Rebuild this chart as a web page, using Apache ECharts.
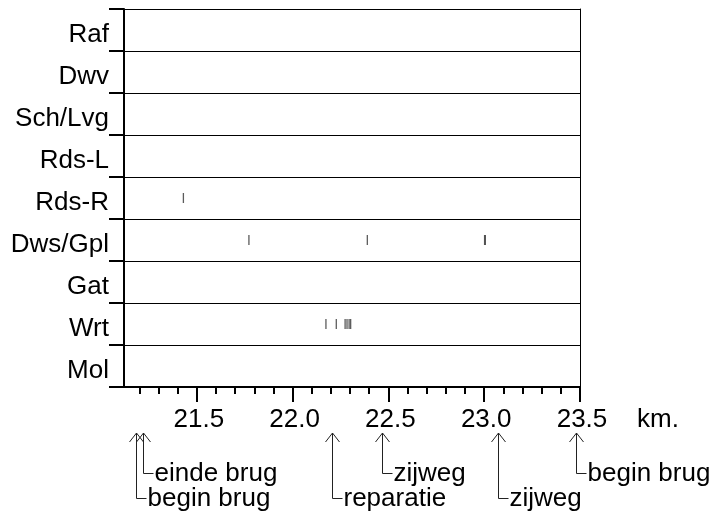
<!DOCTYPE html>
<html>
<head>
<meta charset="utf-8">
<script src="https://cdn.jsdelivr.net/npm/echarts@6/dist/echarts.min.js"></script>
<style>html,body{margin:0;padding:0;background:#fff}#c{width:709px;height:520px}</style>
</head>
<body>
<div id="c"></div>
<script>
const categories = ['Raf', 'Dwv', 'Sch/Lvg', 'Rds-L', 'Rds-R', 'Dws/Gpl', 'Gat', 'Wrt', 'Mol'];
const rdsR = [21.430];
const dwsGpl = [21.772, 22.390, 23.002, 23.006];
const wrt = [22.174, 22.228, 22.274, 22.284, 22.295, 22.303];
const minorTicks = [21.2, 21.3, 21.4, 21.6, 21.7, 21.8, 21.9, 22.1, 22.2, 22.3, 22.4, 22.6, 22.7, 22.8, 22.9, 23.1, 23.2, 23.3, 23.4];
const majorTicks = [21.5, 22.0, 22.5, 23.0, 23.5];
const tickLabels = ['21.5', '22.0', '22.5', '23.0', '23.5'];
const annotKm = [21.183, 21.218, 22.204, 22.465, 23.074, 23.479];
const annotLabels = ['begin brug', 'einde brug', 'reparatie', 'zijweg', 'zijweg', 'begin brug'];
const annotLevel = [1, 0, 1, 0, 1, 0];
const unitLabel = 'km.';

const FONT = '"Liberation Sans", Arial, sans-serif';
const FS = 26;
const xMin = 21.12, xMax = 23.5;

const marks = [];
rdsR.forEach(v => marks.push([v, 'Rds-R']));
dwsGpl.forEach(v => marks.push([v, 'Dws/Gpl']));
wrt.forEach(v => marks.push([v, 'Wrt']));

const chart = echarts.init(document.getElementById('c'), null, {renderer: 'canvas'});
chart.setOption({
  animation: false,
  backgroundColor: '#ffffff',
  grid: {left: 124, top: 9, right: 129, bottom: 133, containLabel: false},
  xAxis: [{
    type: 'value', min: xMin, max: xMax, position: 'bottom',
    axisLine: {show: true, lineStyle: {color: '#000', width: 2}},
    axisTick: {show: true, customValues: minorTicks.concat(majorTicks), length: 7, lineStyle: {color: '#000', width: 2}},
    axisLabel: {show: true, customValues: majorTicks, margin: 20, fontSize: FS, fontFamily: FONT, color: '#000', padding: [0, 0, 0, 4],
      formatter: v => { const i = majorTicks.findIndex(m => Math.abs(m - v) < 1e-6); return i >= 0 ? tickLabels[i] : ''; }},
    splitLine: {show: false},
    name: unitLabel, nameLocation: 'end', nameGap: 57,
    nameTextStyle: {fontSize: FS, fontFamily: FONT, color: '#000', align: 'left', verticalAlign: 'top', padding: [20, 0, 0, 0]}
  }, {
    type: 'value', min: xMin, max: xMax, position: 'bottom', offset: 0,
    axisLine: {show: false},
    axisTick: {show: true, customValues: majorTicks, length: 15, lineStyle: {color: '#000', width: 2}},
    axisLabel: {show: false},
    splitLine: {show: false}
  }],
  yAxis: [{
    type: 'category', data: categories, inverse: true, boundaryGap: true,
    axisLine: {show: true, lineStyle: {color: '#000', width: 2}},
    axisTick: {show: true, interval: 0, length: 15, lineStyle: {color: '#000', width: 2}},
    axisLabel: {interval: 0, margin: 15, color: '#000',
      formatter: v => '{a|' + v + '}',
      rich: {a: {fontSize: FS, fontFamily: FONT, color: '#000', padding: [10, 0, 0, 0]}}},
    splitLine: {show: true, interval: 0, lineStyle: {color: '#000', width: 1}}
  }, {
    type: 'category', data: categories, inverse: true, position: 'right',
    axisLine: {show: true, lineStyle: {color: '#000', width: 1}},
    axisTick: {show: false}, axisLabel: {show: false}, splitLine: {show: false}
  }],
  series: [{
    type: 'scatter', xAxisIndex: 0, yAxisIndex: 0,
    symbol: 'rect', symbolSize: [1.3, 10],
    itemStyle: {color: '#333'},
    data: marks
  }, {
    type: 'custom', xAxisIndex: 0, yAxisIndex: 0, clip: false,
    data: annotKm.map(v => [v, 0]),
    renderItem: function (params, api) {
      const i = params.dataIndex;
      const x = Math.round(api.coord([api.value(0), 0])[0]) + 0.5;
      const bottom = params.coordSys.y + params.coordSys.height;
      const tipY = bottom + 46;
      const cornerY = bottom + (annotLevel[i] === 0 ? 86 : 111) + 0.5;
      const st = {stroke: '#222', lineWidth: 1, fill: null};
      return {
        type: 'group',
        children: [
          {type: 'polyline', shape: {points: [[x, tipY], [x, cornerY], [x + 10, cornerY]]}, style: st},
          {type: 'polyline', shape: {points: [[x - 7, tipY + 9], [x, tipY], [x + 7, tipY + 9]]}, style: st},
          {type: 'text', x: x + 11, y: cornerY,
            style: {text: annotLabels[i], fill: '#000', fontSize: FS, fontFamily: FONT, align: 'left', verticalAlign: 'middle'}}
        ]
      };
    }
  }]
});
</script>
</body>
</html>
